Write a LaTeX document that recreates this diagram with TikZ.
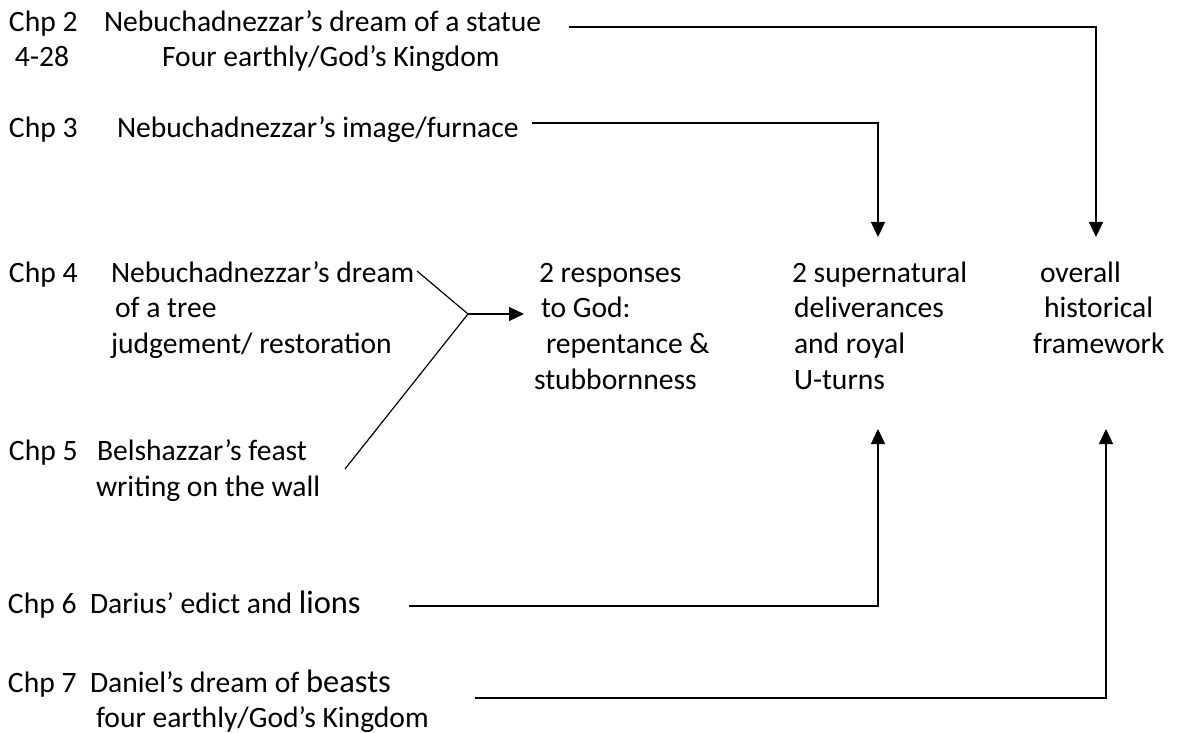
\documentclass[tikz,border=0pt]{standalone}
\usepackage{fontspec}
\setmainfont{Carlito}
\usetikzlibrary{arrows.meta}
\tikzset{
  txt/.style={anchor=base west, inner sep=0pt, outer sep=0pt, font=\fontsize{29.6}{35}\selectfont},
  conn/.style={line width=1.2pt, black},
  arr/.style={conn, -{Triangle[length=15pt,width=14pt]}}
}
\newcommand{\bigw}[1]{{\fontsize{32.5}{35}\selectfont #1}}
\begin{document}
\begin{tikzpicture}[x=1pt,y=-1pt]
\useasboundingbox (0,0) rectangle (1179,733);
% left column
\node[txt] (c2) at (9,32) {Chp 2};
\node[txt] (t2a) at (104,32) {Nebuchadnezzar’s dream of a statue};
\node[txt] (c2v) at (15,67) {4-28};
\node[txt] (t2b) at (162,67) {Four earthly/God’s Kingdom};
\node[txt] (c3) at (9,138) {Chp 3};
\node[txt] (t3) at (117,138) {Nebuchadnezzar’s image/furnace};
\node[txt] (c4) at (9,282) {Chp 4};
\node[txt] (t4a) at (111,282) {Nebuchadnezzar’s dream};
\node[txt] (t4b) at (115,317) {of a tree};
\node[txt] (t4c) at (111,353) {judgement/ restoration};
\node[txt] (c5) at (9,460) {Chp 5};
\node[txt] (t5a) at (97,460) {Belshazzar’s feast};
\node[txt] (t5b) at (96,496) {writing on the wall};
\node[txt] (c6) at (8,613) {Chp 6};
\node[txt] (t6) at (90,613) {Darius’ edict and \bigw{lions}};
\node[txt] (c7) at (8,692) {Chp 7};
\node[txt] (t7a) at (90,692) {Daniel’s dream of \bigw{beasts}};
\node[txt] (t7b) at (96,727) {four earthly/God’s Kingdom};
% result columns
\node[txt] (r1a) at (539,282) {2 responses};
\node[txt] (r1b) at (541,317) {to God:};
\node[txt] (r1c) at (546,353) {repentance \&};
\node[txt] (r1d) at (534,389) {stubbornness};
\node[txt] (r2a) at (792,282) {2 supernatural};
\node[txt] (r2b) at (794,317) {deliverances};
\node[txt] (r2c) at (794,353) {and royal};
\node[txt] (r2d) at (794,389) {U-turns};
\node[txt] (r3a) at (1040,282) {overall};
\node[txt] (r3b) at (1044,317) {historical};
\node[txt] (r3c) at (1033,353) {framework};
% connector points
\coordinate (s2) at (569,27);
\coordinate (k2) at (1096,27);
\coordinate (e2) at (1096,237);
\coordinate (s3) at (532,123);
\coordinate (k3) at (878,123);
\coordinate (e3) at (878,237);
\coordinate (s4) at (417,271);
\coordinate (j) at (468,314);
\coordinate (s5) at (345,469);
\coordinate (e45) at (524,314);
\coordinate (s6) at (409,606);
\coordinate (k6) at (878,606);
\coordinate (e6) at (878,429);
\coordinate (s7) at (475,698);
\coordinate (k7) at (1106,698);
\coordinate (e7) at (1106,429);
% connectors
\draw[arr] (s2) -- (k2) -- (e2);
\draw[arr] (s3) -- (k3) -- (e3);
\draw[conn] (s4) -- (j) -- (s5);
\draw[arr] (j) -- (e45);
\draw[arr] (s6) -- (k6) -- (e6);
\draw[arr] (s7) -- (k7) -- (e7);
\end{tikzpicture}
\end{document}
